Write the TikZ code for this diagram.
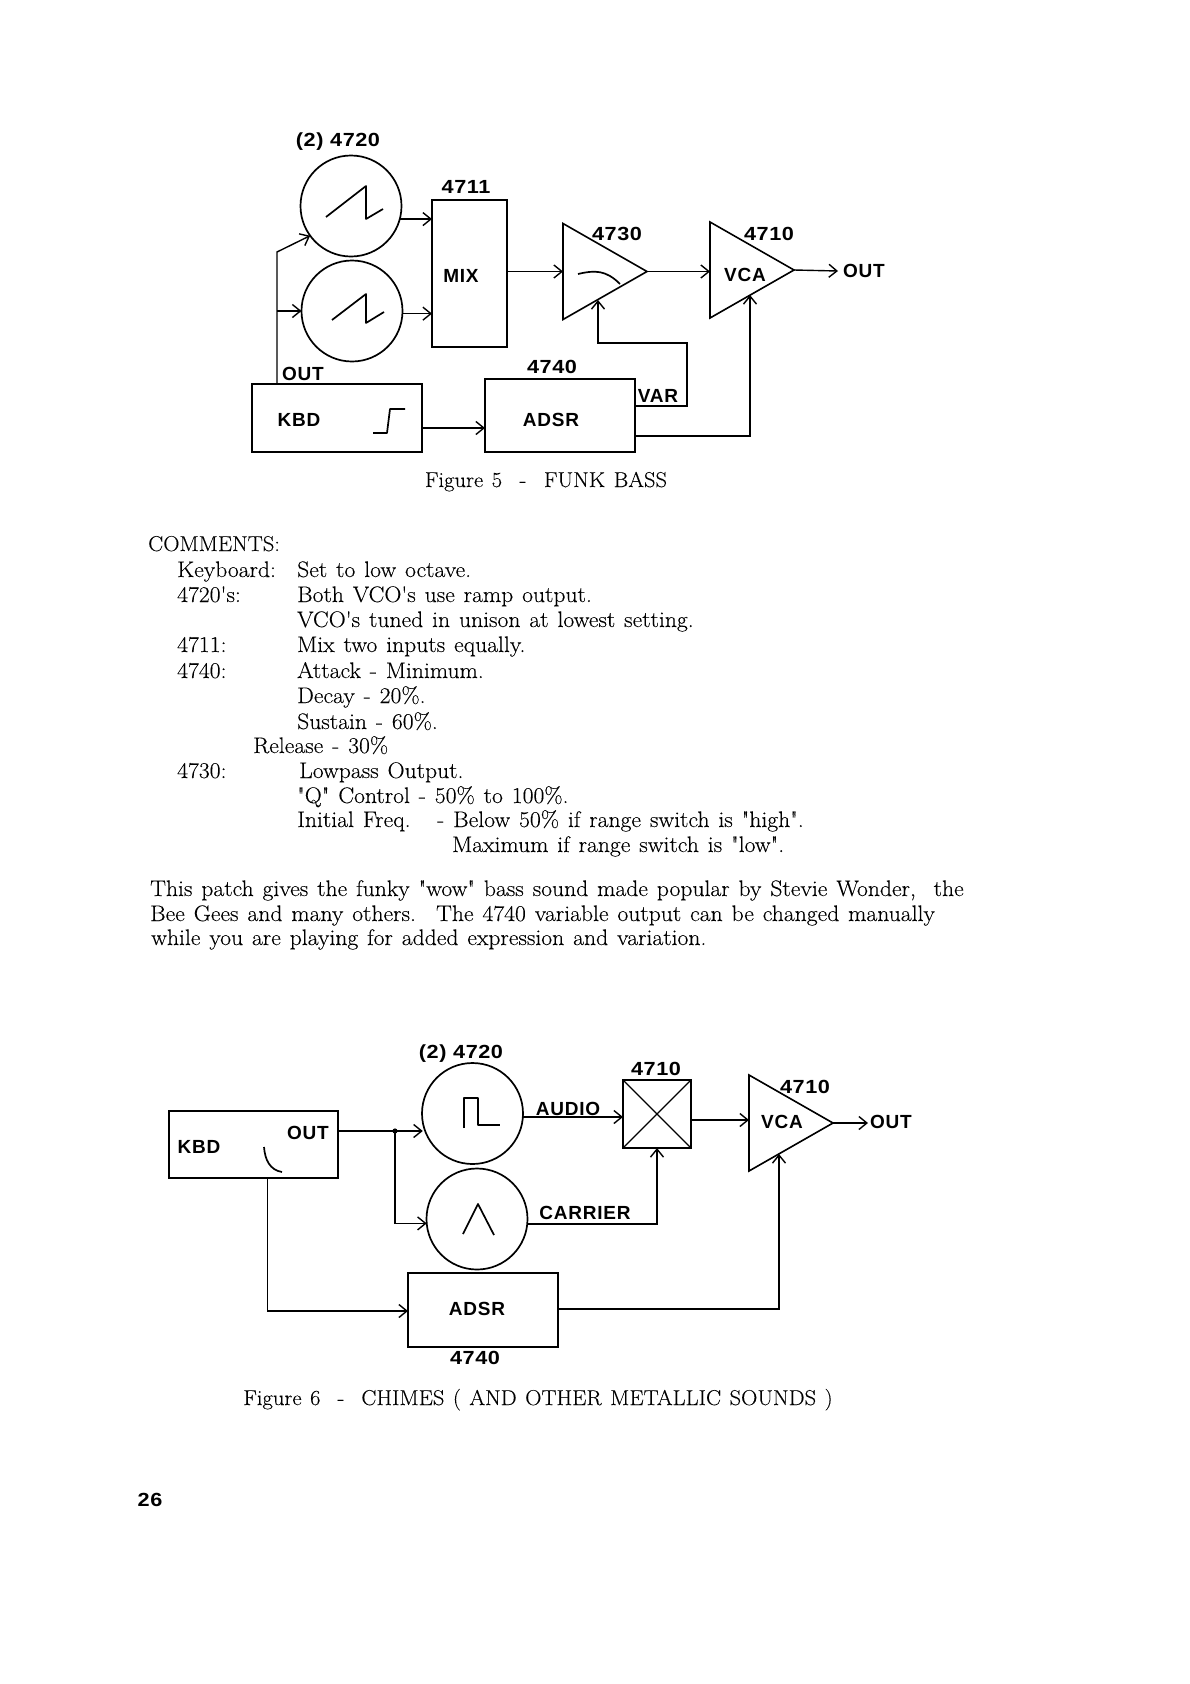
\documentclass[tikz,border=0pt]{standalone}
\usepackage{fontspec}
\newfontfamily\labfont{Liberation Sans}[BoldFont={Liberation Sans Bold}, LetterSpace=4]
\newfontfamily\numfont{Liberation Sans}[BoldFont={Liberation Sans Bold}, FakeStretch=1.14, LetterSpace=3]
\newfontfamily\bodyfont{Latin Modern Roman}[FakeStretch=1.05, WordSpace=1.25, FakeBold=0.15]
\usetikzlibrary{positioning, shapes.geometric, arrows.meta, calc}

\begin{document}
\begin{tikzpicture}[
      x=1pt, y=-1pt,
      >={Straight Barb[length=8pt, width=13pt]},
      osc/.style={circle, draw, line width=1.7pt, minimum size=101pt, inner sep=0pt, outer sep=0pt},
      block/.style={rectangle, draw, line width=1.7pt, inner sep=0pt, outer sep=0pt},
      amp/.style={isosceles triangle, isosceles triangle stretches, draw, line width=1.6pt,
        anchor=west, minimum width=96pt, minimum height=84pt, inner sep=0pt, outer sep=0pt},
      wire/.style={->, line width=1.4pt},
      glyph/.style={line width=1.7pt, line join=round},
      lab/.style={font=\labfont\bfseries\fontsize{19}{22}\selectfont, inner sep=0pt},
      numlab/.style={font=\numfont\bfseries\fontsize{19}{22}\selectfont, inner sep=0pt},
      txt/.style={font=\bodyfont\fontsize{22.5}{25}\selectfont, anchor=base west, inner sep=0pt},
      figcap/.style={font=\bodyfont\fontsize{21.5}{25}\selectfont, anchor=base, inner sep=0pt}
    ]
    \useasboundingbox (0,0) rectangle (1190,1684);

    \node[osc] (vcoa) at (351,206) {};
    \node[osc] (vcob) at (352,311) {};
    \node[block, minimum width=75pt, minimum height=147pt] (mixbox) at (469.5,273.5) {};
    \node[amp] (filt) at (563,271.5) {};
    \node[amp] (ampa) at (710,270) {};
    \node[block, minimum width=170pt, minimum height=68pt] (kbdbox) at (337,418) {};
    \node[block, minimum width=150pt, minimum height=73pt] (adsrbox) at (560,415.5) {};
    \coordinate (kbdtap) at (277,252);
    \coordinate (outa) at (838,271);
    \coordinate (varturn) at (687,343);
    \coordinate (filtin) at (598,300);
    \coordinate (ampin) at (750,295);

    \node[numlab] (lvcoa) at (338,142) {(2) 4720};
    \node[numlab] (lmixa) at (466,187) {4711};
    \node[numlab] (lfilt) at (617,234) {4730};
    \node[numlab] (lampa) at (769,234) {4710};
    \node[lab] (lvcaa) at (745,275) {VCA};
    \node[lab] (lmix) at (461,276) {MIX};
    \node[lab] (lkout) at (303,374) {OUT};
    \node[lab] (lkbd) at (299,420) {KBD};
    \node[lab] (ladsr) at (551,420) {ADSR};
    \node[numlab] (ladsrn) at (552,367) {4740};
    \node[lab] (lvar) at (658,396) {VAR};
    \node[lab, anchor=west] (louta) at (843,271) {OUT};

    \draw[wire] (vcoa.-15) -- (vcoa.-15 -| mixbox.west);
    \draw[wire] (vcob.-3) -- (vcob.-3 -| mixbox.west);
    \draw[wire] (kbdtap |- kbdbox.north) -- (kbdtap) -- (vcoa.216);
    \draw[wire] (kbdtap |- vcob.west) -- (vcob.west);
    \draw[wire] (filt.west -| mixbox.east) -- (filt.west);
    \draw[wire] (filt.apex) -- (filt.apex -| ampa.west);
    \draw[wire] (ampa.apex) -- (outa);
    \draw[wire] (kbdbox.east |- 0,428) -- (adsrbox.west |- 0,428);
    \draw[wire] (adsrbox.east |- 0,406) -| (varturn) -| (filtin);
    \draw[wire] (adsrbox.east |- 0,436) -| (ampin);

    \draw[glyph] (326,217) -- (366,186) -- (366,219) -- (383,209);
    \draw[glyph] (332,320) -- (366,294) -- (366,323) -- (384,312);
    \draw[glyph] (578,274) .. controls (595,270) and (606,270) .. (620,284);
    \draw[glyph] (373,433) -- (387,433) -- (390,409) -- (405,409);

    \node[figcap] (capa) at (546,487) {Figure 5 \hspace{9pt}-\hspace{9pt} FUNK BASS};

    \node[figcap, anchor=base west] (cmt) at (148,551) {COMMENTS:};
    \node[txt] (ca) at (177,577) {Keyboard:};
    \node[txt] (cb) at (297,577) {Set to low octave.};
    \node[txt] (cc) at (177,602) {4720's:};
    \node[txt] (cd) at (297,602) {Both VCO's use ramp output.};
    \node[txt] (ce) at (297,627) {VCO's tuned in unison at lowest setting.};
    \node[txt] (cf) at (177,652) {4711:};
    \node[txt] (cg) at (297,652) {Mix two inputs equally.};
    \node[txt] (ch) at (177,678) {4740:};
    \node[txt] (ci) at (297,678) {Attack - Minimum.};
    \node[txt] (cj) at (297,703) {Decay - 20\%.};
    \node[txt] (ck) at (297,729) {Sustain - 60\%.};
    \node[txt] (cl) at (253,753) {Release - 30\%};
    \node[txt] (cm) at (177,778) {4730:};
    \node[txt] (cn) at (299,778) {Lowpass Output.};
    \node[txt] (co) at (297,803) {"Q" Control - 50\% to 100\%.};
    \node[txt] (cp) at (297,827) {Initial Freq.};
    \node[txt] (cq) at (437,827) {- Below 50\% if range switch is "high".};
    \node[txt] (cr) at (452,852) {Maximum if range switch is "low".};
    \node[txt] (pa) at (150,896) {This patch gives the funky "wow" bass sound made popular by Stevie Wonder, \ the};
    \node[txt] (pb) at (150,921) {Bee Gees and many others. \ The 4740 variable output can be changed manually};
    \node[txt] (pc) at (151,945) {while you are playing for added expression and variation.};

    \node[osc] (vcoc) at (472.5,1113.5) {};
    \node[osc] (vcod) at (477,1219) {};
    \node[block, minimum width=169pt, minimum height=67pt] (kbdboxb) at (253.5,1144.5) {};
    \node[block, minimum width=68pt, minimum height=68pt] (ringbox) at (657,1114) {};
    \node[amp] (ampb) at (749,1123) {};
    \node[block, minimum width=150pt, minimum height=74pt] (adsrboxb) at (483,1310) {};
    \coordinate (tapb) at (395,1131);
    \coordinate (outb) at (868,1123);
    \coordinate (ampbin) at (779,1154);
    \coordinate (kbdbtap) at (267.5,1178);
    \draw[line width=1.2pt] (ringbox.north west) -- (ringbox.south east);
    \draw[line width=1.2pt] (ringbox.north east) -- (ringbox.south west);

    \node[numlab] (lvcoc) at (461,1054) {(2) 4720};
    \node[numlab] (lring) at (656,1069) {4710};
    \node[numlab] (lampb) at (805,1087) {4710};
    \node[lab] (lvcab) at (782,1122) {VCA};
    \node[lab] (laudio) at (568,1109) {AUDIO};
    \node[lab] (lcarr) at (585,1213) {CARRIER};
    \node[lab] (lkbdb) at (199,1147) {KBD};
    \node[lab] (lkoutb) at (308,1133) {OUT};
    \node[lab] (ladsrb) at (477,1309) {ADSR};
    \node[numlab] (ladsrc) at (475,1358) {4740};
    \node[lab, anchor=west] (loutb) at (870,1122) {OUT};

    \fill (tapb) circle (2.6pt);
    \draw[wire] (kbdboxb.east |- tapb) -- (vcoc.-170 |- tapb);
    \draw[wire] (tapb) |- (vcod.185);
    \draw[wire] (vcoc.east |- 0,1117) -- (ringbox.west |- 0,1117);
    \draw[wire] (vcod.east |- 0,1224) -| (ringbox.south);
    \draw[wire] (ringbox.east |- 0,1120) -- (ampb.west |- 0,1120);
    \draw[wire] (ampb.apex) -- (outb);
    \draw[wire] (kbdbtap) |- (adsrboxb.west |- 0,1311);
    \draw[wire] (adsrboxb.east |- 0,1309) -| (ampbin);

    \draw[glyph] (464,1128) -- (464,1098) -- (478,1098) -- (478,1125) -- (500,1125);
    \draw[glyph] (463,1234) -- (478,1204) -- (494,1235);
    \draw[glyph] (264,1147) .. controls (265,1160) and (270,1170) .. (282,1172);

    \node[figcap] (capb) at (538,1405) {Figure 6 \ - \ CHIMES ( AND OTHER METALLIC SOUNDS )};
    \node[numlab] (pagenum) at (150,1500) {26};
  \end{tikzpicture}
\end{document}
